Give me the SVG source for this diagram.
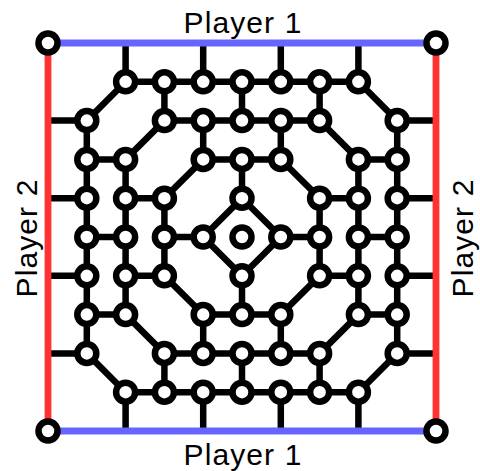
<svg xmlns="http://www.w3.org/2000/svg" width="480" height="471" viewBox="0 0 480 471">
<style>
.edge{fill:none;stroke:#000;stroke-width:6.5;stroke-linejoin:miter}
.p1{fill:none;stroke:#6666ff;stroke-width:6.8}
.p2{fill:none;stroke:#ff3333;stroke-width:6.8}
.node circle{fill:#fff;stroke:#000;stroke-width:6.5}
.lbl{font-family:"Liberation Sans",Arial,sans-serif;font-size:30px;letter-spacing:1.1px;fill:#000;text-anchor:middle}
</style>
<rect width="480" height="471" fill="#fff"/>
<g id="connectors">
<path class="edge" d="M125.6,81.8H358.4L397.2,120.6V353.4L358.4,392.2H125.6L86.8,353.4V120.6Z"/>
<path class="edge" d="M164.4,120.6H319.6L358.4,159.4V314.6L319.6,353.4H164.4L125.6,314.6V159.4Z"/>
<path class="edge" d="M203.2,159.4H280.8L319.6,198.2V275.8L280.8,314.6H203.2L164.4,275.8V198.2Z"/>
<path class="edge" d="M242,198.2L280.8,237L242,275.8L203.2,237Z"/>
<path class="edge" d="M125.6,43V81.8M203.2,43V81.8M280.8,43V81.8M358.4,43V81.8M125.6,392.2V431M203.2,392.2V431M280.8,392.2V431M358.4,392.2V431M48,120.6H86.8M48,198.2H86.8M48,275.8H86.8M48,353.4H86.8M397.2,120.6H436M397.2,198.2H436M397.2,275.8H436M397.2,353.4H436"/>
<path class="edge" d="M164.4,81.8V120.6M242,81.8V120.6M319.6,81.8V120.6M164.4,353.4V392.2M242,353.4V392.2M319.6,353.4V392.2M86.8,159.4H125.6M86.8,237H125.6M86.8,314.6H125.6M358.4,159.4H397.2M358.4,237H397.2M358.4,314.6H397.2"/>
<path class="edge" d="M203.2,120.6V159.4M280.8,120.6V159.4M203.2,314.6V353.4M280.8,314.6V353.4M125.6,198.2H164.4M125.6,275.8H164.4M319.6,198.2H358.4M319.6,275.8H358.4"/>
<path class="edge" d="M242,159.4V198.2M242,275.8V314.6M164.4,237H203.2M280.8,237H319.6"/>
</g>
<g id="borders">
<path class="p1" d="M48,43H436M48,431H436"/>
<path class="p2" d="M48,43V431M436,43V431"/>
</g>
<g id="nodes">
<g id="corner-tl" class="node"><circle cx="48" cy="43" r="9.5"/></g>
<g id="corner-tr" class="node"><circle cx="436" cy="43" r="9.5"/></g>
<g id="corner-bl" class="node"><circle cx="48" cy="431" r="9.5"/></g>
<g id="corner-br" class="node"><circle cx="436" cy="431" r="9.5"/></g>
<g id="n-3_-4" class="node"><circle cx="125.6" cy="81.8" r="9.5"/></g>
<g id="n-2_-4" class="node"><circle cx="164.4" cy="81.8" r="9.5"/></g>
<g id="n-1_-4" class="node"><circle cx="203.2" cy="81.8" r="9.5"/></g>
<g id="n0_-4" class="node"><circle cx="242" cy="81.8" r="9.5"/></g>
<g id="n1_-4" class="node"><circle cx="280.8" cy="81.8" r="9.5"/></g>
<g id="n2_-4" class="node"><circle cx="319.6" cy="81.8" r="9.5"/></g>
<g id="n3_-4" class="node"><circle cx="358.4" cy="81.8" r="9.5"/></g>
<g id="n-3_4" class="node"><circle cx="125.6" cy="392.2" r="9.5"/></g>
<g id="n-2_4" class="node"><circle cx="164.4" cy="392.2" r="9.5"/></g>
<g id="n-1_4" class="node"><circle cx="203.2" cy="392.2" r="9.5"/></g>
<g id="n0_4" class="node"><circle cx="242" cy="392.2" r="9.5"/></g>
<g id="n1_4" class="node"><circle cx="280.8" cy="392.2" r="9.5"/></g>
<g id="n2_4" class="node"><circle cx="319.6" cy="392.2" r="9.5"/></g>
<g id="n3_4" class="node"><circle cx="358.4" cy="392.2" r="9.5"/></g>
<g id="n-4_-3" class="node"><circle cx="86.8" cy="120.6" r="9.5"/></g>
<g id="n-4_-2" class="node"><circle cx="86.8" cy="159.4" r="9.5"/></g>
<g id="n-4_-1" class="node"><circle cx="86.8" cy="198.2" r="9.5"/></g>
<g id="n-4_0" class="node"><circle cx="86.8" cy="237" r="9.5"/></g>
<g id="n-4_1" class="node"><circle cx="86.8" cy="275.8" r="9.5"/></g>
<g id="n-4_2" class="node"><circle cx="86.8" cy="314.6" r="9.5"/></g>
<g id="n-4_3" class="node"><circle cx="86.8" cy="353.4" r="9.5"/></g>
<g id="n4_-3" class="node"><circle cx="397.2" cy="120.6" r="9.5"/></g>
<g id="n4_-2" class="node"><circle cx="397.2" cy="159.4" r="9.5"/></g>
<g id="n4_-1" class="node"><circle cx="397.2" cy="198.2" r="9.5"/></g>
<g id="n4_0" class="node"><circle cx="397.2" cy="237" r="9.5"/></g>
<g id="n4_1" class="node"><circle cx="397.2" cy="275.8" r="9.5"/></g>
<g id="n4_2" class="node"><circle cx="397.2" cy="314.6" r="9.5"/></g>
<g id="n4_3" class="node"><circle cx="397.2" cy="353.4" r="9.5"/></g>
<g id="n-2_-3" class="node"><circle cx="164.4" cy="120.6" r="9.5"/></g>
<g id="n-1_-3" class="node"><circle cx="203.2" cy="120.6" r="9.5"/></g>
<g id="n0_-3" class="node"><circle cx="242" cy="120.6" r="9.5"/></g>
<g id="n1_-3" class="node"><circle cx="280.8" cy="120.6" r="9.5"/></g>
<g id="n2_-3" class="node"><circle cx="319.6" cy="120.6" r="9.5"/></g>
<g id="n-2_3" class="node"><circle cx="164.4" cy="353.4" r="9.5"/></g>
<g id="n-1_3" class="node"><circle cx="203.2" cy="353.4" r="9.5"/></g>
<g id="n0_3" class="node"><circle cx="242" cy="353.4" r="9.5"/></g>
<g id="n1_3" class="node"><circle cx="280.8" cy="353.4" r="9.5"/></g>
<g id="n2_3" class="node"><circle cx="319.6" cy="353.4" r="9.5"/></g>
<g id="n-3_-2" class="node"><circle cx="125.6" cy="159.4" r="9.5"/></g>
<g id="n-3_-1" class="node"><circle cx="125.6" cy="198.2" r="9.5"/></g>
<g id="n-3_0" class="node"><circle cx="125.6" cy="237" r="9.5"/></g>
<g id="n-3_1" class="node"><circle cx="125.6" cy="275.8" r="9.5"/></g>
<g id="n-3_2" class="node"><circle cx="125.6" cy="314.6" r="9.5"/></g>
<g id="n3_-2" class="node"><circle cx="358.4" cy="159.4" r="9.5"/></g>
<g id="n3_-1" class="node"><circle cx="358.4" cy="198.2" r="9.5"/></g>
<g id="n3_0" class="node"><circle cx="358.4" cy="237" r="9.5"/></g>
<g id="n3_1" class="node"><circle cx="358.4" cy="275.8" r="9.5"/></g>
<g id="n3_2" class="node"><circle cx="358.4" cy="314.6" r="9.5"/></g>
<g id="n-1_-2" class="node"><circle cx="203.2" cy="159.4" r="9.5"/></g>
<g id="n0_-2" class="node"><circle cx="242" cy="159.4" r="9.5"/></g>
<g id="n1_-2" class="node"><circle cx="280.8" cy="159.4" r="9.5"/></g>
<g id="n-1_2" class="node"><circle cx="203.2" cy="314.6" r="9.5"/></g>
<g id="n0_2" class="node"><circle cx="242" cy="314.6" r="9.5"/></g>
<g id="n1_2" class="node"><circle cx="280.8" cy="314.6" r="9.5"/></g>
<g id="n-2_-1" class="node"><circle cx="164.4" cy="198.2" r="9.5"/></g>
<g id="n-2_0" class="node"><circle cx="164.4" cy="237" r="9.5"/></g>
<g id="n-2_1" class="node"><circle cx="164.4" cy="275.8" r="9.5"/></g>
<g id="n2_-1" class="node"><circle cx="319.6" cy="198.2" r="9.5"/></g>
<g id="n2_0" class="node"><circle cx="319.6" cy="237" r="9.5"/></g>
<g id="n2_1" class="node"><circle cx="319.6" cy="275.8" r="9.5"/></g>
<g id="n0_-1" class="node"><circle cx="242" cy="198.2" r="9.5"/></g>
<g id="n1_0" class="node"><circle cx="280.8" cy="237" r="9.5"/></g>
<g id="n0_1" class="node"><circle cx="242" cy="275.8" r="9.5"/></g>
<g id="n-1_0" class="node"><circle cx="203.2" cy="237" r="9.5"/></g>
<g id="n0_0" class="node"><circle cx="242" cy="237" r="9.5"/></g>
</g>
<g id="labels">
<text class="lbl" x="243" y="33">Player 1</text>
<text class="lbl" x="243" y="464.5">Player 1</text>
<text class="lbl" transform="translate(37,238) rotate(-90)">Player 2</text>
<text class="lbl" transform="translate(473,238) rotate(-90)">Player 2</text>
</g>
</svg>
